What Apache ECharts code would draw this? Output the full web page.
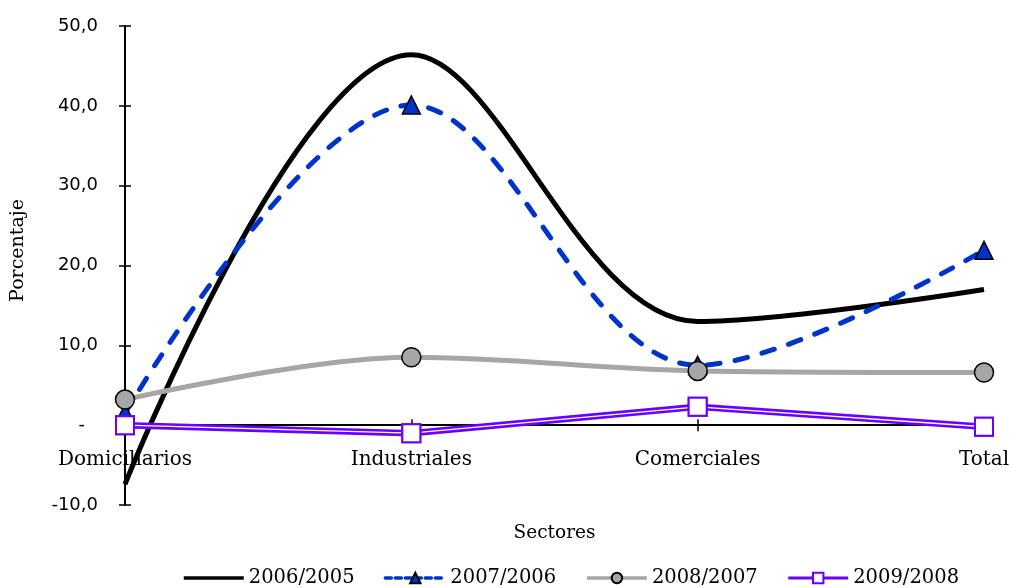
<!DOCTYPE html>
<html>
<head>
<meta charset="utf-8">
<script src="https://cdn.jsdelivr.net/npm/echarts@6/dist/echarts.min.js"></script>
<style>
  html, body { margin: 0; padding: 0; background: #fff; }
  #chart { width: 1010px; height: 588px; }
</style>
</head>
<body>
<div id="chart"></div>
<script>
// Variación porcentual por sector
const sectores = ['Domiciliarios', 'Industriales', 'Comerciales', 'Total'];
const serie2006 = [-7.4, 46.4, 13.0, 17.0];
const serie2007 = [1.5, 40.1, 7.5, 21.9];
const serie2008 = [3.2, 8.5, 6.8, 6.6];
const serie2009 = [0.0, -1.0, 2.3, -0.2];
const nombres = ['2006/2005', '2007/2006', '2008/2007', '2009/2008'];
const yMin = -10, yMax = 50, yPaso = 10;

const serifFont = 'DejaVu Serif';
const sansFont = 'DejaVu Sans';
const purple = '#6a00ff';
const curva = 0.35;

function fmtY(v) {
  if (v === 0) return '{d|-}';
  return v.toFixed(1).replace('.', ',');
}

const tickStyle = { color: '#000', width: 1.5 };

const chart = echarts.init(document.getElementById('chart'));
chart.setOption({
  animation: false,
  backgroundColor: '#fff',
  grid: { left: 125, right: 26, top: 26, bottom: 83, containLabel: false, outerBoundsMode: 'none' },
  legend: {
    bottom: -5,
    left: 177,
    itemWidth: 60,
    itemHeight: 13,
    itemGap: 29,
    textStyle: { fontFamily: serifFont, fontSize: 19.5, color: '#000' },
    data: [
      { name: nombres[0], lineStyle: { width: 3.5 }, itemStyle: { opacity: 0 } },
      { name: nombres[1], lineStyle: { width: 3.5, type: [6, 4] } },
      { name: nombres[2], lineStyle: { width: 3.5 } },
      { name: nombres[3], lineStyle: { width: 3 } }
    ]
  },
  xAxis: [{
    // axis line at zero with outward ticks
    type: 'category',
    position: 'bottom',
    data: sectores,
    boundaryGap: false,
    axisLine: { onZero: true, lineStyle: { color: '#000', width: 2 } },
    axisTick: { show: true, length: 6, lineStyle: tickStyle },
    axisLabel: { show: false },
    splitLine: { show: false }
  }, {
    // inward half of the crossing ticks
    type: 'category',
    position: 'bottom',
    data: sectores,
    boundaryGap: false,
    axisLine: { show: false, onZero: true },
    axisTick: { show: true, inside: true, length: 6, lineStyle: tickStyle },
    axisLabel: { show: false },
    splitLine: { show: false }
  }, {
    // category labels and axis title
    type: 'category',
    position: 'bottom',
    data: sectores,
    boundaryGap: false,
    name: 'Sectores',
    nameLocation: 'middle',
    nameGap: 19,
    nameTextStyle: { fontFamily: serifFont, fontSize: 18.5, color: '#000' },
    axisLine: { show: false, onZero: false },
    axisTick: { show: false },
    axisLabel: { fontFamily: serifFont, fontSize: 20, color: '#000', margin: -55 },
    splitLine: { show: false }
  }],
  yAxis: [{
    type: 'value',
    position: 'left',
    min: yMin, max: yMax, interval: yPaso,
    name: 'Porcentaje',
    nameLocation: 'middle',
    nameGap: 97,
    nameTextStyle: { fontFamily: serifFont, fontSize: 19, color: '#000', padding: [0, 0, 0, 30] },
    axisLine: { show: true, onZero: false, lineStyle: { color: '#000', width: 2 } },
    axisTick: { show: true, length: 6, lineStyle: tickStyle },
    axisLabel: {
      fontFamily: sansFont, fontSize: 18, color: '#000', margin: 27,
      formatter: fmtY,
      rich: { d: { fontFamily: sansFont, fontSize: 18, color: '#000', padding: [0, 13, 0, 0] } }
    },
    splitLine: { show: false }
  }, {
    type: 'value',
    position: 'left',
    min: yMin, max: yMax, interval: yPaso,
    axisLine: { show: false, onZero: false },
    axisTick: { show: true, inside: true, length: 6, lineStyle: tickStyle },
    axisLabel: { show: false },
    splitLine: { show: false }
  }],
  series: [
    {
      name: nombres[0], type: 'line', data: serie2006, smooth: curva,
      symbol: 'none', showSymbol: false,
      itemStyle: { color: '#000' },
      lineStyle: { color: '#000', width: 5 }
    },
    {
      name: nombres[1], type: 'line', data: serie2007, smooth: curva,
      symbol: 'triangle', symbolSize: 18,
      itemStyle: { color: '#0033cc', borderColor: '#000', borderWidth: 1.5 },
      lineStyle: { color: '#0033cc', width: 5, type: [13, 15], cap: 'round' }
    },
    {
      name: nombres[2], type: 'line', data: serie2008, smooth: curva,
      symbol: 'circle', symbolSize: 19,
      itemStyle: { color: '#a6a6a6', borderColor: '#000', borderWidth: 1.5 },
      lineStyle: { color: '#a6a6a6', width: 5 }
    },
    {
      name: nombres[3], type: 'line', data: serie2009,
      symbol: 'rect', symbolSize: 18,
      itemStyle: { color: '#fff', borderColor: purple, borderWidth: 2 },
      lineStyle: { color: purple, width: 6.5 }
    },
    {
      // inner white stroke that splits the purple line into a double line
      name: 'trazo interior', type: 'line', data: serie2009, z: 3,
      symbol: 'rect', symbolSize: 18,
      itemStyle: { color: '#fff', borderColor: purple, borderWidth: 2 },
      lineStyle: { color: '#fff', width: 1.3 },
      silent: true
    }
  ]
});
</script>
</body>
</html>
